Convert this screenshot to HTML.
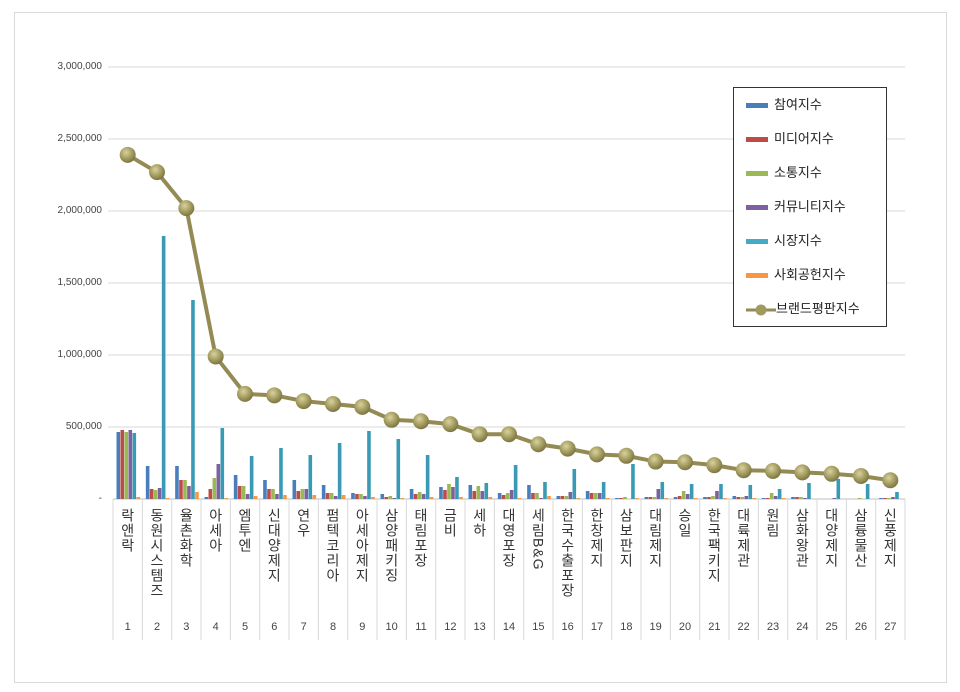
<!DOCTYPE html>
<html><head><meta charset="utf-8"><style>
body{margin:0;background:#fff;width:960px;height:692px;position:relative;overflow:hidden;font-family:"Liberation Sans","Noto Sans CJK KR",sans-serif}
#frame{position:absolute;left:14px;top:12px;width:931px;height:669px;border:1px solid #d9d9d9}
.lab{position:absolute;top:508px;writing-mode:vertical-rl;font-size:14px;line-height:17px;color:#333;letter-spacing:1px;font-family:"Liberation Sans","Noto Sans CJK KR",sans-serif}
.num{position:absolute;top:621px;font-size:11px;color:#444;width:30px;text-align:center}
.yl{position:absolute;left:40px;width:62px;text-align:right;font-size:10px;color:#444}
#leg{position:absolute;left:733px;top:87px;width:152px;height:238px;border:1px solid #333;background:#fff}
.li{position:absolute;left:12px;font-size:13px;color:#222;height:20px;line-height:20px}
.sw{display:inline-block;width:22px;height:5px;vertical-align:middle;margin-right:6px}
</style></head><body>
<div id="frame"></div>
<svg id="s" width="960" height="692" style="position:absolute;left:0;top:0"></svg>
<div class="yl" style="top:61px">3,000,000</div>
<div class="yl" style="top:133px">2,500,000</div>
<div class="yl" style="top:205px">2,000,000</div>
<div class="yl" style="top:277px">1,500,000</div>
<div class="yl" style="top:349px">1,000,000</div>
<div class="yl" style="top:421px">500,000</div>
<div class="yl" style="top:493px">-</div>
<div id="labs"></div>
<div id="leg">
<div class="li" style="top:7px"><span class="sw" style="background:#4a7ebb"></span>참여지수</div>
<div class="li" style="top:41px"><span class="sw" style="background:#be4b48"></span>미디어지수</div>
<div class="li" style="top:75px"><span class="sw" style="background:#98b954"></span>소통지수</div>
<div class="li" style="top:109px"><span class="sw" style="background:#7d60a0"></span>커뮤니티지수</div>
<div class="li" style="top:143px"><span class="sw" style="background:#46aac5"></span>시장지수</div>
<div class="li" style="top:177px"><span class="sw" style="background:#f79646"></span>사회공헌지수</div>
<div class="li" style="top:211px"><svg width="30" height="14" style="vertical-align:middle;margin-right:0px"><line x1="0" y1="7" x2="30" y2="7" stroke="#948a54" stroke-width="3"/><circle cx="15" cy="7" r="5.5" fill="#a09a5c"/></svg>브랜드평판지수</div>
</div>
<script>
var names=["락앤락","동원시스템즈","율촌화학","아세아","엠투엔","신대양제지","연우","펌텍코리아","아세아제지","삼양패키징","태림포장","금비","세하","대영포장","세림B&G","한국수출포장","한창제지","삼보판지","대림제지","승일","한국팩키지","대륙제관","원림","삼화왕관","대양제지","삼륭물산","신풍제지"];
var line=[2.39,2.27,2.02,0.99,0.73,0.72,0.68,0.66,0.64,0.55,0.54,0.52,0.45,0.45,0.38,0.35,0.31,0.30,0.26,0.255,0.235,0.2,0.195,0.185,0.175,0.16,0.13];
var bars=[[67,69,67,69,66,2],[33,10,9,11,263,1],[33,19,19,13,199,7],[2,10,21,35,71,1],[24,13,13,5,43,3],[19,10,10,5,51,4],[19,8,10,10,44,4],[14,6,6,3,56,4],[6,5,5,3,68,2],[5,2,3,1,60,1],[10,5,7,5,44,2],[12,9,15,12,22,2],[14,8,13,8,16,2],[6,4,6,9,34,1],[14,6,6,1,17,3],[3,3,3,7,30,1],[8,6,6,6,17,1],[1,1,2,0,35,1],[2,2,2,10,17,1],[2,3,8,5,15,1],[2,2,3,8,15,1],[3,2,2,3,14,1],[1,1,6,3,10,1],[2,2,2,1,16,0],[0,0,0,1,20,0],[0,0,1,0,15,0],[1,1,1,2,7,0]];
var cols=["#4a7ebb","#be4b48","#98b954","#7d60a0","#3a9ab5","#f79646"];
var x0=113,w=(905-113)/27,base=499,h="";
h+='<defs><radialGradient id="g" cx="40%" cy="35%" r="65%"><stop offset="0" stop-color="#d8d2a0"/><stop offset="0.6" stop-color="#a39b5e"/><stop offset="1" stop-color="#7d7645"/></radialGradient></defs>';
for(var i=0;i<6;i++){var y=67+72*i;h+='<line x1="108" y1="'+y+'" x2="905" y2="'+y+'" stroke="#d9d9d9"/>';}
h+='<line x1="113" y1="499" x2="905" y2="499" stroke="#bfbfbf"/>';
for(var i=0;i<=27;i++){var x=x0+w*i;h+='<line x1="'+x+'" y1="499" x2="'+x+'" y2="640" stroke="#d9d9d9"/>';}
var lb="";
for(var i=0;i<27;i++){var gx=x0+w*i+3.5;
 for(var j=0;j<6;j++){var bh=bars[i][j];if(bh>0)h+='<rect x="'+(gx+j*4)+'" y="'+(base-bh)+'" width="3.6" height="'+bh+'" fill="'+cols[j]+'"/>';}
 var cx=x0+w*(i+.5);
 lb+='<div class="lab" style="left:'+(cx-9)+'px">'+names[i]+'</div><div class="num" style="left:'+(cx-15)+'px">'+(i+1)+'</div>';}
var pts=line.map(function(v,i){return (x0+w*(i+.5))+','+(base-v*144)}).join(' ');
h+='<polyline points="'+pts+'" fill="none" stroke="#948a54" stroke-width="4"/>';
line.forEach(function(v,i){h+='<circle cx="'+(x0+w*(i+.5))+'" cy="'+(base-v*144)+'" r="8" fill="url(#g)"/>';});
document.getElementById('s').innerHTML=h;
document.getElementById('labs').innerHTML=lb;
</script>
</body></html>
